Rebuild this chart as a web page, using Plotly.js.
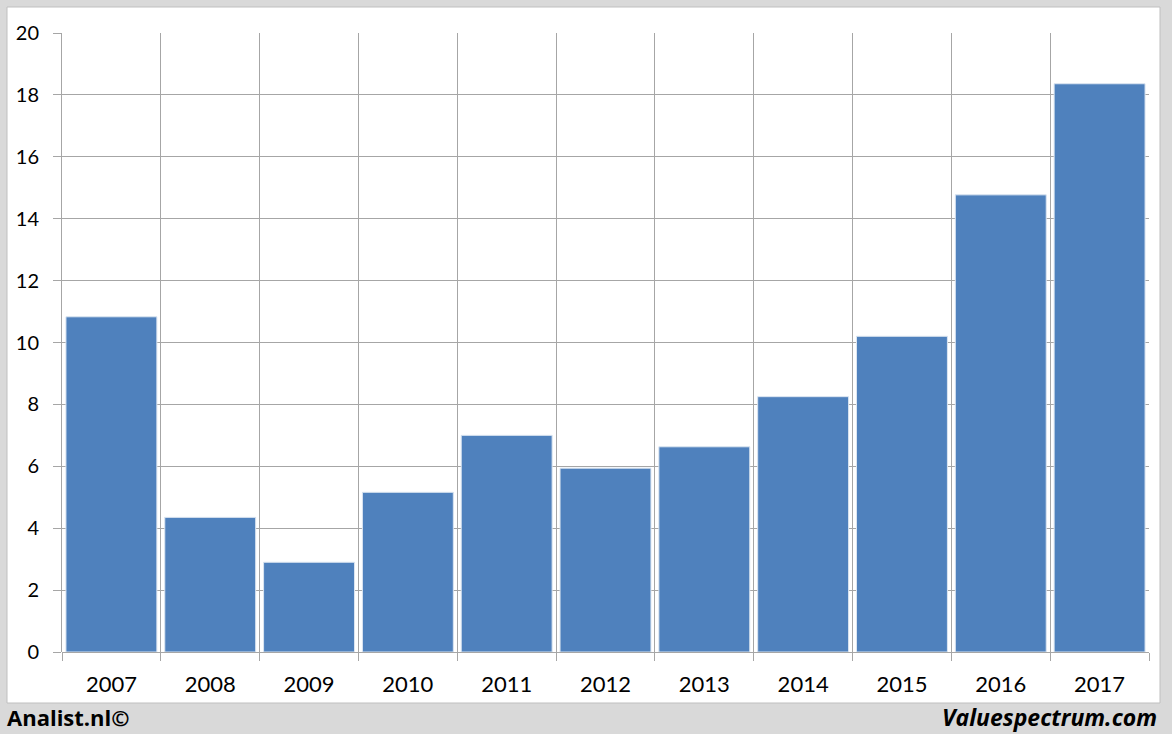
<!DOCTYPE html>
<html>
<head>
<meta charset="utf-8">
<script src="https://cdn.plot.ly/plotly-3.0.1.min.js"></script>
<style>
html,body{margin:0;padding:0;background:#d9d9d9;}
#chart{width:1172px;height:734px;}
</style>
</head>
<body>
<div id="chart"></div>
<script>
const years = ['2007','2008','2009','2010','2011','2012','2013','2014','2015','2016','2017'];
const values = [10.83, 4.35, 2.90, 5.16, 7.00, 5.94, 6.63, 8.25, 10.20, 14.77, 18.36];
const yTicks = [0,2,4,6,8,10,12,14,16,18,20];

const W = 1172, H = 734;
const M = {l:62, r:23, t:33, b:82};
const pw = W - M.l - M.r, ph = H - M.t - M.b;
function px(x){ return (x - M.l)/pw; }
function py(y){ return (H - M.b - y)/ph; }

const trace = {
  type:'bar', x: years, y: values,
  marker:{color:'#4f81bd', line:{color:'#dbe5f1', width:1}},
  hoverinfo:'x+y'
};

const layout = {
  width:W, height:H,
  margin:M,
  paper_bgcolor:'#d9d9d9',
  plot_bgcolor:'rgba(0,0,0,0)',
  bargap:0.08,
  showlegend:false,
  font:{family:'Lato, "Open Sans", sans-serif', color:'#000', size:20},
  xaxis:{
    type:'category', tickson:'boundaries',
    showgrid:true, gridcolor:'#a6a6a6', gridwidth:1,
    ticks:'outside', ticklen:8, tickcolor:'#a6a6a6', tickwidth:1,
    showline:false, zeroline:false,
    tickfont:{size:22, family:'Lato, sans-serif'},
    ticklabelstandoff:17,
    range:[-0.5, 10.5]
  },
  yaxis:{
    range:[0,20], tickvals:yTicks, ticktext:yTicks.map(String),
    showgrid:true, gridcolor:'#a6a6a6', gridwidth:1,
    ticks:'outside', ticklen:8, tickcolor:'#a6a6a6', tickwidth:1,
    showline:true, linecolor:'#a6a6a6', linewidth:1,
    zeroline:true, zerolinecolor:'#a6a6a6', zerolinewidth:1,
    tickfont:{size:20, family:'Lato, sans-serif'},
    ticklabelstandoff:10
  },
  shapes:[
    {type:'rect', xref:'paper', yref:'paper', layer:'below',
     x0:px(7), x1:px(1160), y0:py(703), y1:py(7),
     fillcolor:'#ffffff', line:{color:'#bfbfbf', width:1}}
  ],
  annotations:[
    {xref:'paper', yref:'paper', x:px(5), y:py(717), xanchor:'left', yanchor:'middle',
     text:'<b>Analist.nl©</b>', showarrow:false,
     font:{family:'"Open Sans", Lato, sans-serif', size:22, color:'#000'}},
    {xref:'paper', yref:'paper', x:px(1159), y:py(717), xanchor:'right', yanchor:'middle',
     text:'<b><i>Valuespectrum.com</i></b>', showarrow:false,
     font:{family:'"Open Sans", Lato, sans-serif', size:23, color:'#000'}}
  ]
};

Plotly.newPlot('chart', [trace], layout, {displayModeBar:false, staticPlot:true});
</script>
</body>
</html>
